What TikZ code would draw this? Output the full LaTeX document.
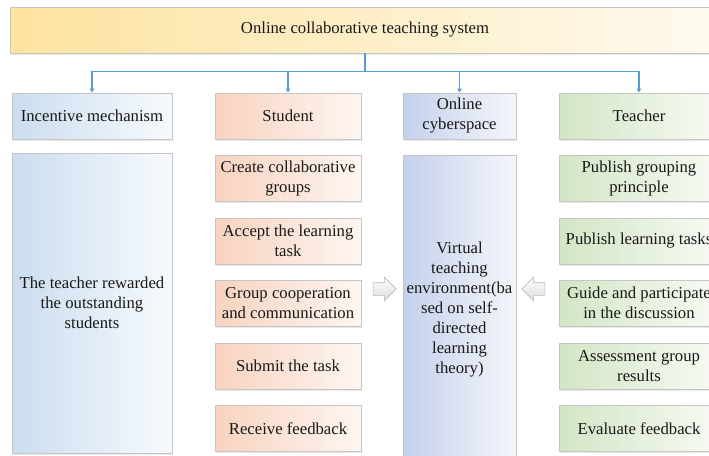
\documentclass[tikz,border=0pt]{standalone}
\usepackage{fontspec}
\setmainfont{Liberation Serif}
\newfontfamily\timesfont{Liberation Serif}
\usepackage{xcolor}
\usetikzlibrary{shapes.arrows, shadows, arrows.meta}

\definecolor{sysgold}{HTML}{FDE3A0}
\definecolor{syslight}{HTML}{FFFAF0}
\definecolor{incblue}{HTML}{CBDDEF}
\definecolor{inclight}{HTML}{F7FAFD}
\definecolor{stupeach}{HTML}{F8D3BF}
\definecolor{stulight}{HTML}{FEF6F2}
\definecolor{cybblue}{HTML}{C4D0EB}
\definecolor{cyblight}{HTML}{F5F6FB}
\definecolor{teagreen}{HTML}{D3E5C5}
\definecolor{tealight}{HTML}{F8FBF5}
\definecolor{linkblue}{HTML}{5B9BD5}

\tikzset{
    box/.style={rectangle, draw=gray!45, line width=0.8pt, minimum height=46pt,
        align=center, inner sep=2pt, text=black!90,
        font=\timesfont\fontsize{16.7}{20}\selectfont,
        drop shadow={opacity=0.18, shadow xshift=1pt, shadow yshift=-1.5pt}},
    sysbox/.style={box, left color=sysgold, right color=syslight},
    incbox/.style={box, left color=incblue, right color=inclight, minimum width=160pt},
    stubox/.style={box, left color=stupeach, right color=stulight, minimum width=146pt},
    cybbox/.style={box, left color=cybblue, right color=cyblight, minimum width=113pt},
    teabox/.style={box, left color=teagreen, right color=tealight, minimum width=160pt},
    link/.style={draw=linkblue, line width=1.2pt},
    blockarrow/.style={single arrow, draw=gray!55, line width=0.6pt, top color=white,
        bottom color=gray!28, minimum height=23pt, inner xsep=0pt, inner ysep=6pt,
        single arrow head extend=5.5pt}
}

\begin{document}
\begin{tikzpicture}[x=1pt, y=-1pt]
    \useasboundingbox (0,0) rectangle (709,455);
    \fill[white] (0,0) rectangle (709,455);
    \clip (0,0) rectangle (709,455);

    % top level
    \node[sysbox, minimum width=710pt] (sys) at (365,30) {Online collaborative teaching system};

    % second level
    \node[incbox] (inc) at (92,116) {Incentive mechanism};
    \node[stubox] (stu) at (288,116) {Student};
    \node[cybbox] (cyb) at (459.5,116) {Online\\cyberspace};
    \node[teabox] (tea) at (639,116) {Teacher};

    \draw[link] (sys.south) -- ++(0,18) coordinate (hub);
    \draw[link, -{Triangle[length=4pt, width=4.5pt]}] (hub) -| (inc.north);
    \draw[link, -{Triangle[length=4pt, width=4.5pt]}] (hub) -| (stu.north);
    \draw[link, -{Triangle[length=4pt, width=4.5pt]}] (hub) -| (cyb.north);
    \draw[link, -{Triangle[length=4pt, width=4.5pt]}] (hub) -| (tea.north);

    % incentive column
    \node[incbox, minimum height=300pt] (reward) at (92,303) {The teacher rewarded\\the outstanding\\students};

    % student column
    \node[stubox] (create) at (288,178.5) {Create collaborative\\groups};
    \node[stubox] (accept) at (288,241) {Accept the learning\\task};
    \node[stubox] (coop) at (288,303) {Group cooperation\\and communication};
    \node[stubox] (submit) at (288,366) {Submit the task};
    \node[stubox] (receive) at (288,428.5) {Receive feedback};

    % online cyberspace column
    \node[cybbox, minimum height=310pt] (env) at (459.5,310) {Virtual\\teaching\\environment(ba\\sed on self-\\directed\\learning\\theory)};

    % teacher column
    \node[teabox] (principle) at (639,178.5) {Publish grouping\\principle};
    \node[teabox] (tasks) at (639,241) {Publish learning tasks};
    \node[teabox] (guide) at (639,303) {Guide and participate\\in the discussion};
    \node[teabox] (assess) at (639,366) {Assessment group\\results};
    \node[teabox] (evaluate) at (639,428.5) {Evaluate feedback};

    % block arrows towards the environment
    \node[blockarrow] (stuarrow) at (381.5,289) {};
    \node[blockarrow, shape border rotate=180] (teaarrow) at (536.5,289) {};
\end{tikzpicture}
\end{document}
